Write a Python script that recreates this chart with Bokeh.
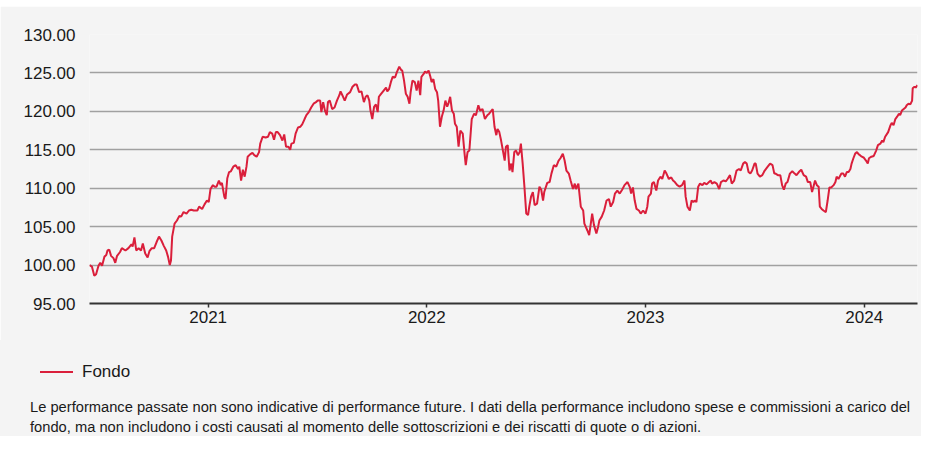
import pandas as pd
from bokeh.plotting import figure
from bokeh.layouts import column
from bokeh.models import (FixedTicker, NumeralTickFormatter, DatetimeTickFormatter, Range1d,
                          ColumnDataSource, Div)
from bokeh.embed import file_html
from bokeh.resources import INLINE

# ---------------- data ----------------
start_date = "2020-06-17"
end_date = "2024-03-30"

day_offsets = [
    0, 4, 8, 11, 15, 18, 21, 25, 28, 30, 33, 36, 40, 43, 46, 51, 54, 60, 65, 70, 72, 75, 78, 82, 86, 89, 93, 97,
    100, 104, 108, 112, 116, 120, 124, 128, 131, 134, 136, 138, 142, 146, 150, 153, 157, 162, 166, 170, 174, 180,
    183, 188, 192, 196, 199, 202, 206, 209, 212, 216, 219, 221, 225, 227, 230, 233, 236, 240, 244, 248, 250, 253,
    256, 259, 262, 264, 268, 272, 275, 279, 283, 285, 289, 294, 298, 301, 305, 308, 311, 314, 318, 322, 325, 328,
    332, 335, 337, 341, 344, 348, 352, 355, 359, 362, 366, 370, 374, 378, 381, 385, 387, 390, 393, 396, 398, 401,
    405, 409, 413, 417, 419, 422, 426, 430, 435, 439, 443, 446, 450, 454, 458, 461, 464, 467, 469, 472, 475, 478,
    481, 483, 486, 491, 495, 497, 500, 503, 506, 510, 513, 517, 520, 522, 525, 528, 531, 534, 536, 539, 543, 546,
    549, 552, 554, 558, 560, 563, 566, 569, 571, 574, 577, 580, 582, 585, 588, 591, 594, 597, 599, 602, 605, 608,
    610, 613, 616, 619, 623, 626, 628, 631, 634, 638, 642, 645, 649, 652, 656, 660, 664, 667, 673, 676, 679, 681,
    684, 687, 690, 693, 695, 698, 701, 704, 706, 709, 712, 715, 718, 720, 723, 726, 729, 732, 734, 737, 740, 743,
    747, 751, 754, 757, 759, 764, 768, 771, 775, 779, 783, 786, 790, 793, 796, 800, 803, 807, 810, 812, 816, 820,
    824, 826, 831, 834, 836, 839, 842, 846, 849, 851, 855, 859, 863, 867, 870, 874, 877, 881, 885, 889, 893, 898,
    902, 904, 907, 910, 913, 917, 920, 924, 928, 931, 933, 937, 939, 942, 946, 949, 953, 956, 960, 963, 967, 971,
    974, 977, 981, 985, 989, 993, 995, 998, 1002, 1005, 1008, 1010, 1013, 1016, 1019, 1023, 1026, 1030, 1034,
    1037, 1039, 1043, 1047, 1051, 1054, 1058, 1062, 1065, 1069, 1072, 1076, 1080, 1084, 1087, 1091, 1094, 1097,
    1100, 1103, 1106, 1110, 1112, 1115, 1119, 1123, 1127, 1132, 1136, 1140, 1143, 1145, 1149, 1153, 1156, 1159,
    1162, 1165, 1169, 1173, 1177, 1180, 1184, 1188, 1192, 1196, 1199, 1203, 1206, 1208, 1211, 1214, 1217, 1219,
    1222, 1225, 1229, 1232, 1235, 1238, 1242, 1245, 1247, 1250, 1255, 1258, 1261, 1264, 1267, 1270, 1272, 1275,
    1278, 1281, 1284, 1286, 1289, 1292, 1296, 1299, 1301, 1305, 1309, 1313, 1316, 1320, 1323, 1325, 1328, 1333,
    1337, 1339, 1342, 1345, 1348, 1351, 1353, 1356, 1359, 1362, 1364, 1367, 1370, 1373, 1374, 1377, 1379, 1382,
]

fund_values = [
    100.0, 99.8, 98.6, 98.8, 99.9, 100.3, 99.9, 101.1, 101.3, 101.9, 102.0, 101.2, 100.9, 100.3, 101.2, 101.7,
    102.2, 101.9, 102.2, 102.7, 102.4, 103.6, 101.9, 102.2, 101.9, 102.8, 101.5, 101.0, 101.8, 102.2, 102.2,
    103.0, 103.7, 103.2, 102.5, 101.9, 101.1, 100.0, 100.6, 103.7, 105.4, 105.8, 106.4, 106.3, 106.9, 106.7,
    107.1, 107.2, 107.1, 107.1, 107.6, 107.3, 107.9, 108.4, 108.2, 109.9, 110.4, 110.2, 110.2, 111.0, 110.4,
    110.7, 108.9, 108.6, 111.3, 112.1, 112.2, 112.8, 113.0, 112.5, 112.8, 111.0, 112.4, 111.5, 112.8, 114.1,
    114.4, 114.6, 114.3, 114.1, 114.7, 115.8, 116.7, 116.6, 116.7, 117.3, 117.1, 116.3, 117.3, 117.3, 116.9,
    116.2, 117.0, 115.4, 115.4, 115.0, 115.8, 115.9, 117.1, 117.9, 118.0, 118.3, 119.0, 119.5, 119.9, 120.5,
    121.0, 121.2, 121.4, 121.4, 119.9, 121.2, 120.1, 119.5, 121.2, 121.4, 120.3, 120.5, 121.4, 122.1, 122.6,
    122.1, 121.4, 122.2, 122.5, 123.2, 123.5, 123.5, 122.5, 122.6, 121.2, 121.9, 122.1, 121.4, 120.1, 119.0,
    120.6, 120.9, 119.9, 121.9, 122.2, 122.7, 123.1, 122.6, 122.9, 123.8, 124.5, 124.4, 125.1, 125.8, 125.4,
    125.3, 124.0, 122.3, 121.9, 121.0, 122.5, 124.0, 123.8, 122.7, 124.0, 122.1, 124.5, 124.9, 125.2, 125.0,
    125.3, 124.5, 123.8, 124.2, 122.9, 122.5, 121.4, 118.0, 119.3, 120.1, 121.4, 120.6, 121.0, 121.9, 120.1,
    119.7, 118.4, 118.0, 115.4, 117.5, 117.1, 114.5, 113.0, 114.7, 114.9, 119.0, 119.7, 119.5, 120.8, 120.1,
    120.3, 119.0, 119.5, 119.7, 120.3, 118.0, 116.9, 117.7, 117.3, 116.2, 114.9, 113.6, 115.4, 115.6, 112.3,
    113.2, 112.1, 114.7, 114.9, 114.3, 114.7, 115.8, 113.2, 110.1, 106.7, 106.5, 107.6, 108.9, 109.5, 107.8,
    108.0, 110.2, 109.8, 108.4, 109.5, 110.7, 110.8, 111.9, 113.0, 112.8, 113.6, 113.9, 114.5, 113.6, 112.3,
    111.9, 111.0, 109.9, 110.6, 109.9, 110.6, 107.6, 107.1, 105.4, 104.5, 103.9, 105.0, 106.7, 105.2, 104.1,
    105.0, 105.8, 106.3, 107.1, 108.4, 108.6, 107.6, 108.2, 109.3, 109.7, 109.3, 109.8, 110.4, 110.8, 110.1,
    109.3, 110.1, 108.4, 107.3, 107.1, 106.7, 107.1, 106.7, 107.6, 108.9, 109.3, 110.6, 110.8, 109.7, 111.0,
    111.5, 111.2, 112.3, 111.9, 111.2, 111.4, 111.0, 110.8, 110.4, 110.2, 110.4, 111.0, 108.9, 107.6, 107.1,
    108.4, 108.2, 108.4, 108.2, 110.2, 110.6, 110.4, 110.7, 110.5, 110.8, 111.0, 110.6, 110.8, 110.6, 109.9,
    110.8, 111.0, 110.9, 111.2, 111.7, 110.6, 111.0, 112.3, 112.5, 112.3, 113.2, 113.4, 113.2, 112.1, 111.9,
    112.3, 113.2, 113.2, 111.9, 111.5, 111.7, 112.3, 112.8, 113.2, 113.0, 111.9, 111.9, 111.7, 111.7, 110.4,
    109.8, 110.6, 110.8, 111.9, 112.2, 111.9, 111.7, 112.1, 112.4, 111.7, 111.5, 110.8, 110.8, 109.5, 110.1,
    111.0, 110.4, 110.2, 107.6, 107.3, 107.1, 106.9, 108.4, 110.1, 110.1, 110.4, 110.8, 111.5, 111.2, 111.9,
    111.9, 111.5, 112.1, 112.1, 112.5, 113.2, 113.9, 114.5, 114.7, 114.4, 114.3, 114.1, 114.0, 113.6, 113.2,
    113.9, 114.1, 114.2, 114.9, 115.6, 115.8, 116.2, 116.0, 116.7, 117.3, 118.2, 118.5, 118.2, 119.0, 119.3,
    119.7, 119.5, 120.1, 120.3, 120.5, 120.8, 121.0, 120.9, 121.4, 123.0, 123.2, 123.1, 123.4,
]

y_ticks = [95, 100, 105, 110, 115, 120, 125, 130]
y_min, y_max = 95, 130
x_tick_dates = ["2021-01-01", "2022-01-01", "2023-01-01", "2024-01-01"]
series_name = "Fondo"
note_lines = [
    "Le performance passate non sono indicative di performance future. I dati della performance includono spese e commissioni a carico del",
    "fondo, ma non includono i costi causati al momento delle sottoscrizioni e dei riscatti di quote o di azioni.",
]

# ---------------- styles ----------------
BG = "#f4f4f4"
LINE_COLOR = "#da1f3b"
GRID_COLOR = "#a0a0a0"
FONT = "Liberation Sans"
TEXT = "#1a1a1a"
W = 921

dates = pd.Timestamp(start_date) + pd.to_timedelta(day_offsets, unit="D")
source = ColumnDataSource(dict(date=dates, value=fund_values))

# thin white strip above the grey panel
strip = Div(text="", width=W, height=6, margin=0, styles={"background-color": "#ffffff"})

# ---------------- main chart ----------------
p = figure(width=W, height=334, x_axis_type="datetime",
           x_range=Range1d(pd.Timestamp(start_date), pd.Timestamp(end_date)),
           y_range=Range1d(y_min, y_max),
           output_backend="svg", toolbar_location=None, margin=0,
           min_border_left=89, min_border_right=4, min_border_top=28, min_border_bottom=37)

p.background_fill_color = BG
p.border_fill_color = BG
p.outline_line_color = None

r = p.line("date", "value", source=source, line_color=LINE_COLOR, line_width=2)

p.xgrid.grid_line_color = None
p.ygrid.grid_line_color = GRID_COLOR
p.ygrid.grid_line_width = 1.5

p.yaxis.ticker = FixedTicker(ticks=y_ticks)
p.yaxis.formatter = NumeralTickFormatter(format="0.00")
p.yaxis.axis_line_color = None
p.yaxis.major_tick_line_color = None
p.yaxis.major_tick_out = 0
p.yaxis.major_tick_in = 0
p.yaxis.minor_tick_line_color = None
p.yaxis.major_label_standoff = 14
p.yaxis.major_label_text_font = FONT
p.yaxis.major_label_text_font_size = "17px"
p.yaxis.major_label_text_color = TEXT

tick_ms = [pd.Timestamp(d).value // 10**6 for d in x_tick_dates]
p.xaxis.ticker = FixedTicker(ticks=tick_ms)
p.xaxis.formatter = DatetimeTickFormatter(years="%Y", months="%Y", days="%Y", hours="%Y",
                                          minutes="%Y", seconds="%Y", milliseconds="%Y",
                                          microseconds="%Y", minsec="%Y", hourmin="%Y")
p.xaxis.axis_line_color = "#333333"
p.xaxis.axis_line_width = 2
p.xaxis.major_tick_line_color = "#333333"
p.xaxis.major_tick_line_width = 1.5
p.xaxis.major_tick_in = 0
p.xaxis.major_tick_out = 4
p.xaxis.minor_tick_line_color = None
p.xaxis.major_label_standoff = 3
p.xaxis.major_label_text_font = FONT
p.xaxis.major_label_text_font_size = "17px"
p.xaxis.major_label_text_color = TEXT

# ---------------- legend + footnote (HTML strip below the chart) ----------------
legend_html = (
    f'<div style="box-sizing:border-box;padding:21px 0 0 40px;height:41px;line-height:20px;'
    f'font-size:17px;white-space:nowrap;">'
    f'<span style="display:inline-block;width:33px;height:0;border-top:2px solid {LINE_COLOR};'
    f'vertical-align:middle;"></span>'
    f'<span style="margin-left:9px;vertical-align:middle;">{series_name}</span></div>'
)
note_html = (
    '<div style="box-sizing:border-box;padding:16px 0 0 30px;font-size:14.7px;line-height:20px;'
    'white-space:nowrap;">' + "<br>".join(note_lines) + "</div>"
)
bottom = Div(
    text=(f'<div style="width:{W}px;height:96px;overflow:hidden;background:{BG};'
          f'font-family:\'{FONT}\';color:{TEXT};">' + legend_html + note_html + "</div>"),
    width=W, height=96, margin=0, styles={"background-color": BG},
)

layout = column(strip, p, bottom, spacing=0)
open("out.html", "w").write(file_html(layout, INLINE))
